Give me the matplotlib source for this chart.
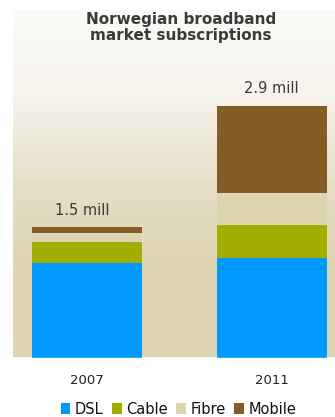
import numpy as np
import matplotlib
matplotlib.use("Agg")
import matplotlib.pyplot as plt
from matplotlib.colors import LinearSegmentedColormap

years = ["2007", "2011"]
series = ["DSL", "Cable", "Fibre", "Mobile"]
dsl = [1.09, 1.15]
cable = [0.24, 0.38]
fibre = [0.11, 0.37]
mobile = [0.065, 1.01]
totals_labels = ["1.5 mill", "2.9 mill"]
colors = ["#0099ff", "#a3ad00", "#ddd4b0", "#845c25"]
title = "Norwegian broadband\nmarket subscriptions"

W, H = 335, 417
fig = plt.figure(figsize=(W / 100, H / 100), dpi=100)
fig.patch.set_facecolor("white")

left_px, right_px, top_px, bot_px = 13, 335, 10, 357.5
ax = fig.add_axes([left_px / W, (H - bot_px) / H, (right_px - left_px) / W, (bot_px - top_px) / H])

px_per_unit_x = 184.5
xl0 = 0 - (87 - left_px) / px_per_unit_x
xl1 = 1 + (right_px - 271.5) / px_per_unit_x
px_per_mill = 86.5
yl1 = (bot_px - top_px) / px_per_mill

cmap = LinearSegmentedColormap.from_list("bg", ["#fcfbf8", "#f6f3ec", "#e6dfc8", "#ddd4b1", "#ddd4b1"])
grad = np.linspace(0, 1, 256).reshape(-1, 1)
ax.imshow(grad, cmap=cmap, extent=[xl0, xl1, 0, yl1], origin="upper", aspect="auto", zorder=0)

x = np.arange(len(years))
width = 110 / px_per_unit_x
bottom = np.zeros(len(years))
for name, vals, c in zip(series, [dsl, cable, fibre, mobile], colors):
    ax.bar(x, vals, width=width, bottom=bottom, color=c, label=name, zorder=2, linewidth=0)
    bottom = bottom + np.array(vals)

for xi, tot, lab in zip(x, bottom, totals_labels):
    ax.text(xi - (0.025 if xi == 0 else 0), tot + 0.2, lab, ha="center", va="center",
            fontsize=10.5, color="#3a3a3a", zorder=3)

ax.axhline(0, color="#f3efe4", lw=1, zorder=3)
ax.set_xlim(xl0, xl1)
ax.set_ylim(0, yl1)
ax.set_xticks(x)
ax.set_xticklabels(years, fontsize=9.5, color="#222222")
ax.tick_params(axis="x", length=0, pad=12)
ax.set_yticks([])
for s in ax.spines.values():
    s.set_visible(False)

fig.text(181 / W, 1 - 12 / H, title, ha="center", va="top", fontsize=11, fontweight="bold",
         color="#3a3a3a", linespacing=1.1)

leg = ax.legend(loc="center", bbox_to_anchor=(178.5 / W, 1 - 409 / H), bbox_transform=fig.transFigure,
                ncol=4, frameon=False, handlelength=0.65, handleheight=0.8, handletextpad=0.3,
                columnspacing=0.6, fontsize=10.5, borderaxespad=0, borderpad=0)
for t in leg.get_texts():
    t.set_color("#111111")

fig.savefig("out.png", dpi=100)
